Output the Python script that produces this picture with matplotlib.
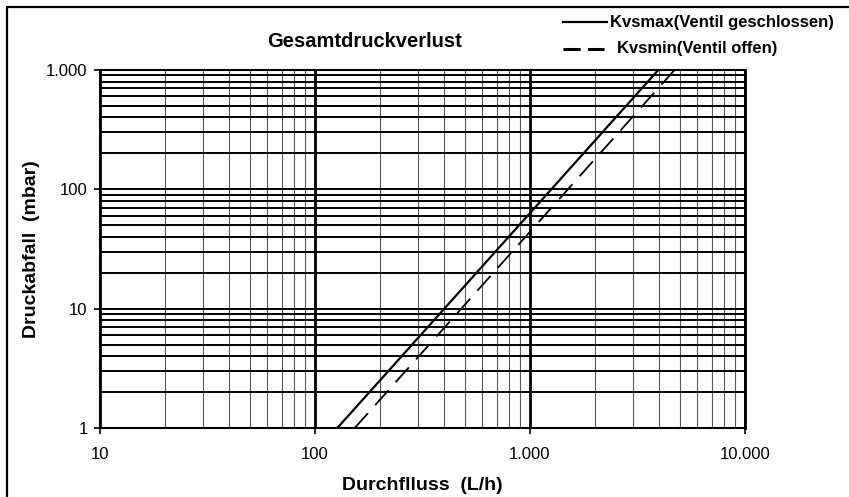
import matplotlib
matplotlib.use("Agg")
import matplotlib.pyplot as plt
from matplotlib.ticker import FixedLocator, FixedFormatter, LogLocator, NullFormatter
from matplotlib.lines import Line2D
from matplotlib.patches import Rectangle

plt.rcParams['font.family'] = ['Liberation Sans', 'DejaVu Sans']

# ---- data ----
flow_kvsmax = [127, 3950]      # L/h
dp_kvsmax = [1, 1000]          # mbar
flow_kvsmin = [153, 4700]      # L/h
dp_kvsmin = [1, 1000]          # mbar

x_ticks = [10, 100, 1000, 10000]
x_tick_labels = ["10", "100", "1.000", "10.000"]
y_ticks = [1, 10, 100, 1000]
y_tick_labels = ["1", "10", "100", "1.000"]

title = "Gesamtdruckverlust"
x_label = "Durchflluss  (L/h)"
y_label = "Druckabfall  (mbar)"
label_max = "Kvsmax(Ventil geschlossen)"
label_min = "Kvsmin(Ventil offen)"

W, H = 849, 497
fig = plt.figure(figsize=(W / 100, H / 100), dpi=100)
fig.patch.set_facecolor("white")

def fx(px):
    return px / W

def fy(py):
    return 1 - py / H

ax_l, ax_r, ax_t, ax_b = 100, 745, 70, 428
ax = fig.add_axes([fx(ax_l), fy(ax_b), (ax_r - ax_l) / W, (ax_b - ax_t) / H])
ax.set_xscale("log")
ax.set_yscale("log")
ax.set_xlim(x_ticks[0], x_ticks[-1])
ax.set_ylim(y_ticks[0], y_ticks[-1])

ax.plot(flow_kvsmax, dp_kvsmax, color="black", lw=1.6, solid_capstyle="butt", zorder=3)
ax.plot(flow_kvsmin, dp_kvsmin, color="black", lw=1.3, dashes=(11, 6), zorder=3)

ax.xaxis.set_major_locator(FixedLocator(x_ticks))
ax.xaxis.set_major_formatter(FixedFormatter(x_tick_labels))
ax.yaxis.set_major_locator(FixedLocator(y_ticks))
ax.yaxis.set_major_formatter(FixedFormatter(y_tick_labels))
ax.xaxis.set_minor_locator(LogLocator(base=10, subs=range(2, 10)))
ax.yaxis.set_minor_locator(LogLocator(base=10, subs=range(2, 10)))
ax.xaxis.set_minor_formatter(NullFormatter())
ax.yaxis.set_minor_formatter(NullFormatter())

ax.tick_params(which="minor", length=0)
ax.tick_params(axis="x", which="major", direction="out", length=4.5, width=1.2,
               pad=9.5, labelsize=12)
ax.tick_params(axis="y", which="major", direction="out", length=4.5, width=1.2,
               pad=4.5, labelsize=12)

ax.yaxis.grid(True, which="both", color="black", lw=1.4, zorder=1)
ax.xaxis.grid(True, which="major", color="black", lw=2.0, zorder=1)
ax.xaxis.grid(True, which="minor", color="#5a5a5a", lw=0.8, zorder=1)

for s in ("left", "bottom", "top"):
    ax.spines[s].set_linewidth(1.5)
ax.spines["right"].set_linewidth(2.0)

ax.set_xlabel(x_label, fontsize=14, fontweight="bold")
ax.set_ylabel(y_label, fontsize=14, fontweight="bold")
ax.xaxis.set_label_coords(0.5, (ax_b - 477) / (ax_b - ax_t))
ax.yaxis.set_label_coords((40 - ax_l) / (ax_r - ax_l), 0.5)

# title
fig.text(fx(364), fy(47), title, ha="center", va="baseline",
         fontsize=14.5, fontweight="bold")

# legend (drawn in figure coordinates)
fig.add_artist(Line2D([fx(563), fx(607)], [fy(22), fy(22)], color="black", lw=1.6,
                      transform=fig.transFigure))
fig.add_artist(Line2D([fx(563), fx(604)], [fy(49), fy(49)], color="black", lw=2.2,
                      dashes=(5.6, 2.4), solid_capstyle="butt", dash_capstyle="butt",
                      transform=fig.transFigure))
fig.text(fx(610), fy(22), label_max, ha="left", va="center", fontsize=12, fontweight="bold")
fig.text(fx(617), fy(49), label_min, ha="left", va="center", fontsize=12, fontweight="bold")

# outer frame (clipped at right and bottom)
fig.add_artist(Rectangle((fx(7), -0.1), 1.2, fy(7) + 0.1, fill=False, lw=1.6,
                         edgecolor="black", transform=fig.transFigure))

fig.savefig("out.png", dpi=100, facecolor="white")
